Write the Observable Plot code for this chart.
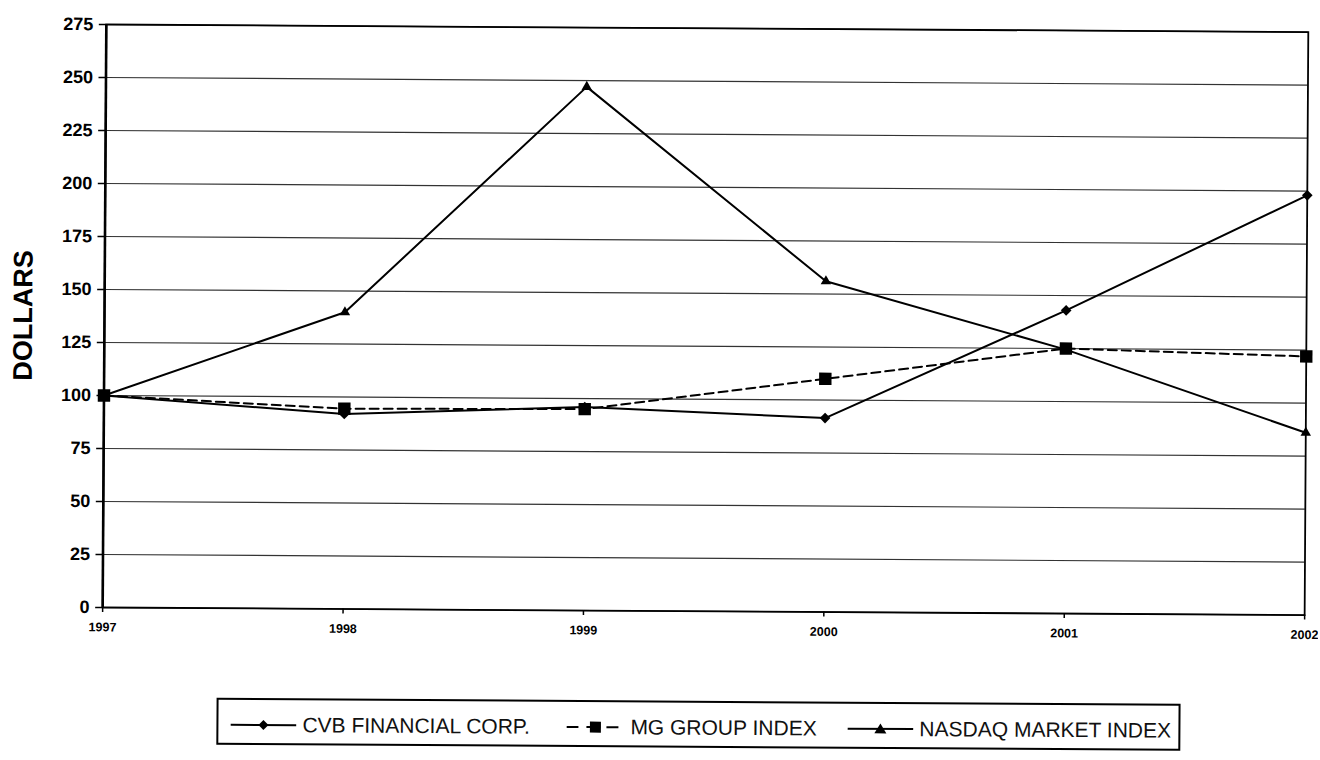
<!DOCTYPE html>
<html>
<head>
<meta charset="utf-8">
<script src="https://cdn.jsdelivr.net/npm/d3@7"></script>
<script src="https://cdn.jsdelivr.net/npm/@observablehq/plot@0.6"></script>
<style>
  html, body { margin: 0; padding: 0; background: #fff; }
  body { width: 1320px; height: 760px; overflow: hidden; font-family: "Liberation Sans", Arial, sans-serif; }
  #page { position: relative; width: 1320px; height: 760px; transform: rotate(0.36deg); transform-origin: 104px 315px; }
  #chart { position: absolute; left: 0; top: 0; }
  #legend { position: absolute; left: 219px; top: 697px; width: 960px; height: 43px; border: 2px solid #000; }
  .item { position: absolute; top: 0; height: 50px; display: flex; align-items: center; font-size: 21px; color: #111; white-space: nowrap; }
  .item svg { margin-right: 6px; }
</style>
</head>
<body>
<div id="page">
<div id="chart"></div>
<div id="legend"></div>
</div>
<script>
const years = [1997, 1998, 1999, 2000, 2001, 2002];
const seriesNames = ["CVB FINANCIAL CORP.", "MG GROUP INDEX", "NASDAQ MARKET INDEX"];
const cvb = [100, 92, 96, 91.5, 143, 198];
const mg = [100, 94.5, 95, 110, 125, 122];
const nasdaq = [100, 140, 247, 156, 124.5, 86];
const yTicks = [0, 25, 50, 75, 100, 125, 150, 175, 200, 225, 250, 275];
const symbols = ["diamond2", "square", "triangle2"];
const symbolRadii = [4.8, 7.0, 5.0];
const dashes = [null, "9,5", null];

const allSeries = [cvb, mg, nasdaq];
const data = [];
allSeries.forEach((vals, i) => vals.forEach((v, j) => data.push({series: seriesNames[i], idx: i, year: years[j], value: v})));

const chart = Plot.plot({
  width: 1320,
  height: 660,
  marginTop: 24,
  marginLeft: 104,
  marginRight: 14,
  marginBottom: 53,
  style: {fontFamily: "'Liberation Sans', Arial, sans-serif", background: "transparent", color: "#000"},
  x: {type: "linear", domain: [1997, 2002], ticks: years, tickFormat: d => String(d)},
  y: {domain: [0, 275], ticks: yTicks},
  marks: [
    Plot.ruleY(yTicks, {stroke: "#333", strokeWidth: 1.2}),
    Plot.frame({stroke: "#000", strokeWidth: 1.8}),
    Plot.ruleX([1997], {stroke: "#000", strokeWidth: 2.6}),
    Plot.axisY({ticks: yTicks, tickSize: 7, tickPadding: 6, fontSize: 18, fontWeight: "bold", label: null, stroke: "#000", strokeWidth: 1.5}),
    Plot.axisX({ticks: years, tickSize: 5, tickPadding: 10, fontSize: 12.5, fontWeight: "bold", label: null, stroke: "#000", strokeWidth: 1.5, tickFormat: d => String(d)}),
    Plot.text(["DOLLARS"], {frameAnchor: "left", dx: -81, rotate: -90, textAnchor: "middle", fontSize: 27, fontWeight: "bold", fill: "#000"}),
    ...seriesNames.map((name, i) => Plot.line(data.filter(d => d.idx === i), {
      x: "year", y: "value", stroke: "#000", strokeWidth: 2, strokeDasharray: dashes[i]
    })),
    ...seriesNames.map((name, i) => Plot.dot(data.filter(d => d.idx === i), {
      x: "year", y: "value", symbol: () => symbols[i], r: symbolRadii[i], fill: "#000", stroke: "none"
    }))
  ]
});
document.getElementById("chart").appendChild(chart);

// legend (positions relative to the legend box)
const legendPos = [{left: 12, lineW: 66}, {left: 348, lineW: 58}, {left: 629, lineW: 66}];
const legendSymbols = [
  '<path d="M0,-5L5,0L0,5L-5,0Z" fill="#000"/>',
  '<rect x="-5.5" y="-5.5" width="11" height="11" fill="#000"/>',
  '<path d="M0,-5.5L6,4.5L-6,4.5Z" fill="#000"/>'
];
const legend = document.getElementById("legend");
seriesNames.forEach((name, i) => {
  const p = legendPos[i];
  const div = document.createElement("div");
  div.className = "item";
  div.style.left = p.left + "px";
  const w = p.lineW;
  div.innerHTML = `<svg width="${w}" height="14" viewBox="0 -7 ${w} 14"><line x1="0" x2="${w}" y1="0" y2="0" stroke="#000" stroke-width="2" ${dashes[i] ? 'stroke-dasharray="12,8"' : ''}/><g transform="translate(${w/2},0)">${legendSymbols[i]}</g></svg><span>${name}</span>`;
  legend.appendChild(div);
});
</script>
</body>
</html>
